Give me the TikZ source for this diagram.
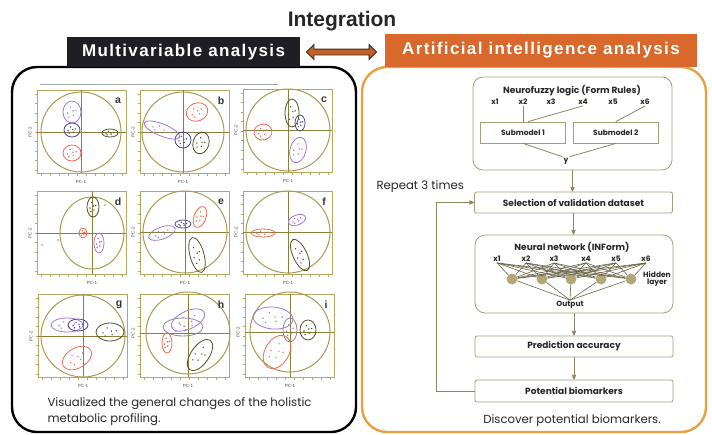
\documentclass[tikz,border=0pt]{standalone}
\usepackage{fontspec}
\setmainfont{Liberation Sans}
\newfontfamily\roundfont{Poppins}
\newfontfamily\hdrfont[LetterSpace=8]{Liberation Sans}
\usepackage{xcolor}
\usepackage{tikz}
\usetikzlibrary{shapes.arrows, arrows, calc, positioning}

\definecolor{hdrBlack}{HTML}{1E1E24}
\definecolor{hdrOrange}{HTML}{D9682C}
\definecolor{aiEdge}{HTML}{E8A040}
\definecolor{arrowFill}{HTML}{C0622A}
\definecolor{arrowEdge}{HTML}{3A2A20}
\definecolor{frameCol}{HTML}{B4A964}
\definecolor{axisCol}{HTML}{8A7E3A}
\definecolor{circleCol}{HTML}{A89A50}
\definecolor{mvPurple}{HTML}{A078D8}
\definecolor{mvRed}{HTML}{EE6A50}
\definecolor{mvOlive}{HTML}{50502A}
\definecolor{mvNavy}{HTML}{4A4A90}
\definecolor{mvGrey}{HTML}{8C8A9A}
\definecolor{flowLine}{HTML}{8C8560}
\definecolor{boxEdge}{HTML}{A49E74}
\definecolor{hidFill}{HTML}{B0A878}

\tikzset{
  pcaframe/.style={draw=frameCol, line width=0.8},
  pcaaxis/.style={draw=axisCol, line width=0.9},
  pcacircle/.style={draw=circleCol, line width=1},
  pcaletter/.style={font=\fontsize{10.5}{10}\selectfont\bfseries, text=black!80},
  pcatiny/.style={font=\fontsize{4.5}{5}\selectfont, text=black!70, inner sep=0},
  grpP/.style={color=mvPurple},
  grpR/.style={color=mvRed},
  grpO/.style={color=mvOlive},
  grpB/.style={color=mvNavy},
  grpG/.style={color=mvGrey},
  hdrbox/.style={text=white, font=\hdrfont\fontsize{17}{18}\selectfont\bfseries, inner sep=0},
  bigbox/.style={draw=boxEdge, line width=0.8, rounded corners=10},
  stepbox/.style={draw=boxEdge, line width=0.8, rounded corners=2, minimum width=198,
    minimum height=21, font=\roundfont\fontsize{9}{10}\selectfont\bfseries, text=black!85},
  subbox/.style={draw=boxEdge, line width=0.8, minimum width=85, minimum height=21,
    font=\roundfont\fontsize{7.5}{8}\selectfont\bfseries, text=black!85},
  flowtitle/.style={font=\roundfont\fontsize{9}{10}\selectfont\bfseries, text=black!85, inner sep=1},
  xlab/.style={font=\roundfont\fontsize{7.5}{8}\selectfont\bfseries, text=black!85, inner sep=1},
  flowline/.style={draw=flowLine, line width=0.8},
  flowarrow/.style={draw=flowLine, line width=0.8, -stealth'},
  netline/.style={draw=flowLine!75!black, line width=0.6},
  capfont/.style={font=\roundfont\fontsize{11.7}{16}\selectfont, text=black!85},
}

% one PCA score plot: left, top, letter, axis x, axis y, circle rx, circle ry
\newcommand{\pcaplot}[7]{%
  \draw[pcaframe] (#1,#2) rectangle ++(89,83);
  \foreach \tk in {0,...,9} {\draw[pcaframe] (#1+4+\tk*9,#2+83) -- ++(0,2.5);}
  \foreach \tk in {0,...,8} {\draw[pcaframe] (#1,#2+4+\tk*9.5) -- ++(-2.5,0);}
  \draw[pcaaxis] (#4,#2) -- (#4,#2+83);
  \draw[pcaaxis] (#1,#5) -- (#1+89,#5);
  \draw[pcacircle] (#4,#5) ellipse ({#6} and {#7});
  \node[pcaletter] (lbl#3) at (#1+81,#2+11) {#3};
  \node[pcatiny] (pcx#3) at (#4,#2+92) {PC-1};
  \node[pcatiny, rotate=90] (pcy#3) at (#1-7,#5) {PC-2};
}
% one sample group: style, centre x, centre y, rx, ry, angle
\newcommand{\pcagroup}[6]{%
  \begin{scope}[shift={(#2,#3)}, rotate=#6]
    \draw[#1, line width=0.8] (0,0) ellipse ({#4} and {#5});
    \foreach \du/\dv in {-0.5/0.1, -0.2/-0.45, 0.15/0.3, 0.45/-0.15, 0.1/-0.1, -0.35/0.45}
      \fill[#1] (\du*#4,\dv*#5) circle (0.8);
  \end{scope}}

\begin{document}
\begin{tikzpicture}[x=1pt, y=-1pt]
  \useasboundingbox (0,0) rectangle (712,434);

  % two panels
  \draw[line width=2.4, rounded corners=25] (12,67) rectangle (356,432);
  \draw[aiEdge, line width=2.4, rounded corners=25] (362,67) rectangle (706,432);

  % headers
  \node[font=\fontsize{21}{22}\selectfont\bfseries, text=black!85] (integ) at (342,21) {Integration};
  \node[hdrbox, fill=hdrBlack, minimum width=233, minimum height=30] (mva) at (183.5,52) {Multivariable analysis};
  \node[hdrbox, fill=hdrOrange, minimum width=312, minimum height=33] (aia) at (541,50) {Artificial intelligence analysis};
  \node[double arrow, draw=arrowEdge, fill=arrowFill, line width=0.9, minimum height=70,
    inner sep=2.5, double arrow head extend=4.5] (link) at (341.5,52) {};

  % multivariable analysis: score plots
  \draw[black!35, line width=0.6] (40,84.5) -- (278,84.5);
  \pcaplot{37}{90}{a}{81}{132}{40}{40}
  \pcagroup{grpP}{72}{112}{9}{11}{0}
  \pcagroup{grpB}{72}{130}{8}{7}{0}
  \pcagroup{grpO}{110}{133}{8}{4}{0}
  \pcagroup{grpR}{72}{153}{9}{8}{0}

  \pcaplot{140}{90}{b}{183}{132}{41}{40}
  \pcagroup{grpR}{197}{112}{11}{9}{20}
  \pcagroup{grpP}{162}{130}{19}{6}{-22}
  \pcagroup{grpB}{183}{140}{8}{8}{0}
  \pcagroup{grpO}{201}{143}{8}{11}{-15}

  \pcaplot{243}{89}{c}{288}{130}{42}{41}
  \pcagroup{grpO}{292}{113}{7}{14}{0}
  \pcagroup{grpB}{300}{123}{5}{8}{0}
  \pcagroup{grpR}{263}{132}{9}{8}{10}
  \pcagroup{grpP}{298}{150}{8}{13}{-15}

  \pcaplot{37}{191}{d}{92}{233}{32}{36}
  \pcagroup{grpO}{93}{207}{6}{10}{0}
  \pcagroup{grpR}{83}{233}{4}{5}{0}
  \pcagroup{grpP}{99}{243}{5}{10}{0}
  \fill[mvRed] (42,245) circle (0.8) (58,240) circle (0.8) (105,205) circle (0.8);

  \pcaplot{140}{191}{e}{185}{232}{42}{41}
  \pcagroup{grpR}{200}{217}{6}{11}{-20}
  \pcagroup{grpB}{183}{224}{8}{4}{0}
  \pcagroup{grpP}{162}{233}{14}{6}{20}
  \pcagroup{grpO}{197}{255}{7}{18}{15}

  \pcaplot{243}{191}{f}{288}{232}{42}{41}
  \pcagroup{grpP}{297}{220}{9}{5}{20}
  \pcagroup{grpR}{263}{233}{12}{4}{0}
  \pcagroup{grpO}{300}{255}{7}{17}{25}

  \pcaplot{38}{294}{g}{83}{336}{42}{41}
  \pcagroup{grpP}{67}{325}{16}{7}{0}
  \pcagroup{grpB}{78}{325}{10}{6}{0}
  \pcagroup{grpO}{110}{332}{14}{9}{0}
  \pcagroup{grpR}{77}{358}{16}{10}{30}

  \pcaplot{140}{294}{h}{188}{333}{42}{41}
  \pcagroup{grpG}{183}{327}{20}{9}{0}
  \pcagroup{grpP}{188}{320}{18}{9}{25}
  \pcagroup{grpR}{167}{343}{5}{10}{0}
  \pcagroup{grpO}{200}{355}{9}{18}{-35}

  \pcaplot{245}{294}{i}{290}{332}{40}{40}
  \pcagroup{grpP}{273}{318}{20}{11}{-5}
  \pcagroup{grpG}{290}{330}{7}{12}{0}
  \pcagroup{grpO}{308}{330}{8}{10}{0}
  \pcagroup{grpR}{277}{352}{12}{18}{-30}

  \node[capfont, anchor=west, align=left] (vis) at (44,412)
    {Visualized the general changes of the holistic\\metabolic profiling.};

  % artificial intelligence analysis: workflow
  \node[bigbox, minimum width=199, minimum height=93] (nfz) at (572.5,123.5) {};
  \node[flowtitle] (nfztitle) at (572,91) {Neurofuzzy logic (Form Rules)};
  \foreach \xx/\nn in {495/1, 523/2, 551/3, 583/4, 613/5, 645/6}
    \node[xlab] (nx\nn) at (\xx,102) {x\nn};
  \node[subbox] (sub1) at (523,132.5) {Submodel 1};
  \node[subbox, right=7pt of sub1] (sub2) {Submodel 2};
  \node[xlab] (yout) at (566,161) {y};
  \draw[flowline] (nx2.south) -- (nx2.south |- sub1.north);
  \draw[flowline] (nx4.south) -- ($(sub1.north)+(5,0)$);
  \draw[flowline] (nx6.south) -- (sub2.north);
  \draw[flowline] (sub1.south) -- (yout.north west);
  \draw[flowline] (sub2.south) -- (yout.north east);

  \node[stepbox] (sel) at (573.5,202.5) {Selection of validation dataset};
  \draw[flowarrow] (nfz.south) -- (nfz.south |- sel.north);

  \node[bigbox, minimum width=198, minimum height=78] (nn) at (574,274) {};
  \node[flowtitle] (nntitle) at (572,247) {Neural network (INForm)};
  \foreach \xx/\nn in {497/1, 526/2, 554/3, 586/4, 616/5, 646/6}
    \node[xlab] (nnx\nn) at (\xx,259) {x\nn};
  \foreach \xx/\nn in {512/1, 542/2, 571/3, 601/4, 631/5}
    \node[circle, fill=hidFill, minimum size=11, inner sep=0] (h\nn) at (\xx,279) {};
  \node[xlab] (outp) at (570,305) {Output};
  \node[xlab, align=center] (hidlab) at (657,279) {Hidden\\[-1.5pt]layer};
  \foreach \i in {1,...,6}
    \foreach \j in {1,...,5}
      \draw[netline] (nnx\i.south) -- (h\j);
  \foreach \j in {1,...,5}
    \draw[netline] (h\j) -- (outp.north);
  \draw[flowarrow] (sel) -- (sel |- nn.north);

  \node[stepbox] (pred) at (574,346.5) {Prediction accuracy};
  \node[stepbox, minimum height=22] (pot) at (574,391) {Potential biomarkers};
  \draw[flowarrow] (nn) -- (pred);
  \draw[flowarrow] (pred) -- (pot);
  \draw[flowarrow] (pot.west) -- ++(-38,0) |- (sel.west);
  \node[capfont, anchor=west] (rep) at (373,187) {Repeat 3 times};
  \node[capfont] (disc) at (572,421) {Discover potential biomarkers.};
\end{tikzpicture}
\end{document}
